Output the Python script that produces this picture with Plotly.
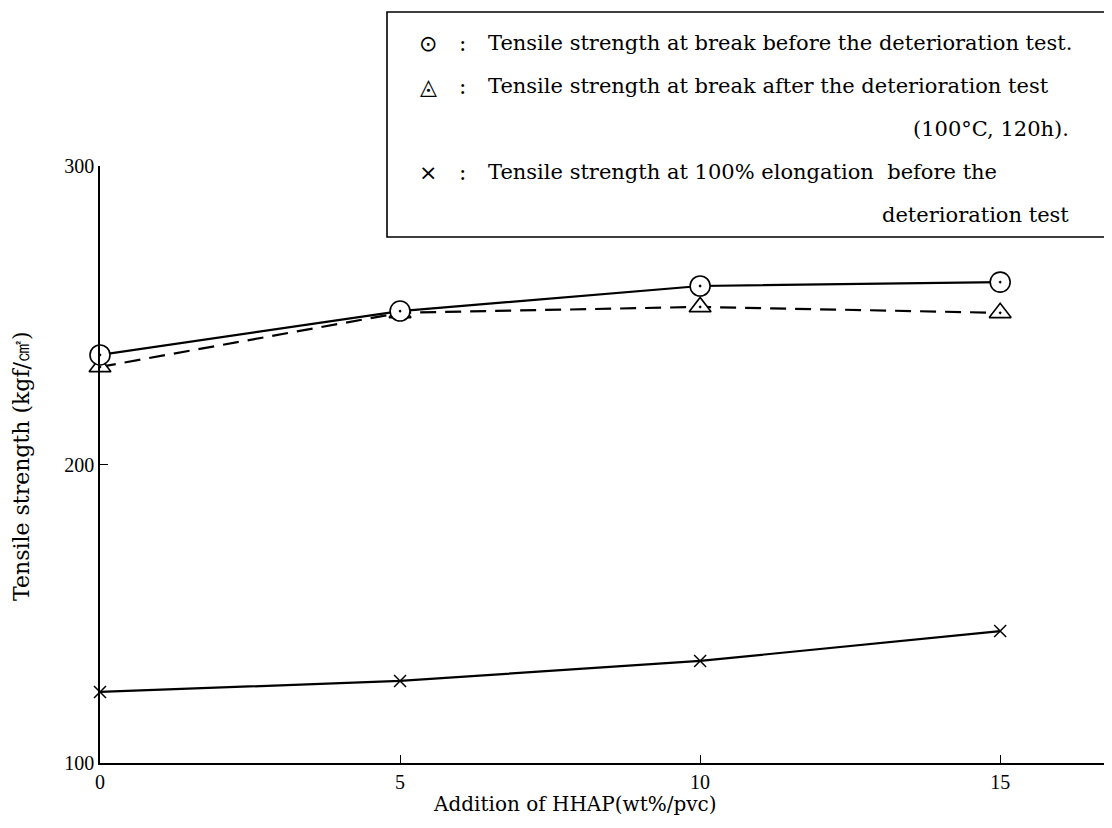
import plotly.graph_objects as go

# ---- data ----
hhap = [0, 5, 10, 15]
break_before = [236.7, 251.4, 259.8, 261.1]
break_after = [232.7, 250.8, 252.8, 250.8]
elong100_before = [123.8, 127.5, 134.2, 144.2]

x_ticks = [0, 5, 10, 15]
y_ticks = [100, 200, 300]

legend_rows = [
    ("⊙", "Tensile strength at break before the deterioration test."),
    ("◬", "Tensile strength at break after the deterioration test"),
    ("×", "Tensile strength at 100% elongation  before the"),
]
legend_cont = ["(100°C, 120h).", "deterioration test"]

SERIF = "Liberation Serif, Times New Roman, serif"
WIDE = "DejaVu Serif, serif"

fig = go.Figure()

fig.add_trace(go.Scatter(
    x=hhap, y=break_after, mode="lines+markers",
    line=dict(color="black", width=2.2, dash="16px,9px"),
    marker=dict(symbol="triangle-up-dot", size=19, color="white",
                line=dict(color="black", width=1.6)),
    cliponaxis=False, showlegend=False))

fig.add_trace(go.Scatter(
    x=hhap, y=break_before, mode="lines+markers",
    line=dict(color="black", width=2.2),
    marker=dict(symbol="circle-dot", size=20, color="white",
                line=dict(color="black", width=1.6)),
    cliponaxis=False, showlegend=False))

fig.add_trace(go.Scatter(
    x=hhap, y=elong100_before, mode="lines+markers",
    line=dict(color="black", width=2.2),
    marker=dict(symbol="x-thin", size=12, color="black",
                line=dict(color="black", width=1.5)),
    cliponaxis=False, showlegend=False))

fig.update_layout(
    width=1104, height=820,
    margin=dict(l=92, r=2, t=158, b=65),
    paper_bgcolor="white", plot_bgcolor="white",
    font=dict(family=SERIF, color="black"),
    xaxis=dict(range=[0, 16.83], tickvals=x_ticks, ticktext=[str(v) for v in x_ticks],
               showgrid=False, zeroline=False, showline=True, linecolor="black",
               linewidth=1.6, ticks="inside", ticklen=8, tickcolor="black",
               tickfont=dict(family=SERIF, size=20)),
    yaxis=dict(range=[100, 300], tickvals=y_ticks, ticktext=[str(v) for v in y_ticks],
               showgrid=False, zeroline=False, showline=True, linecolor="black",
               linewidth=1.6, ticks="inside", ticklen=8, tickcolor="black",
               tickfont=dict(family=SERIF, size=20)),
)

# axis titles
fig.add_annotation(text="Addition of HHAP(wt%/pvc)", xref="paper", yref="paper",
                   x=(575 - 100) / 1010, y=(763 - 804) / 597, showarrow=False,
                   font=dict(family=WIDE, size=20), xanchor="center", yanchor="middle")
fig.add_annotation(text="Tensile strength (kgf/㎠)", xref="paper", yref="paper",
                   x=(21 - 100) / 1010, y=(763 - 466) / 597, showarrow=False, textangle=-90,
                   font=dict(family=WIDE, size=22), xanchor="center", yanchor="middle")

# legend box
fig.add_shape(type="rect", xref="paper", yref="paper",
              x0=(387 - 100) / 1010, x1=(1106 - 100) / 1010,
              y0=(763 - 237) / 597, y1=(763 - 12) / 597,
              line=dict(color="black", width=1.6), fillcolor="white", layer="above")

row_px = [43, 86, 172]
cont_px = [129, 215]
for (sym, txt), py in zip(legend_rows, row_px):
    yp = (763 - py) / 597
    fig.add_annotation(text=sym, xref="paper", yref="paper", x=(428 - 100) / 1010, y=yp,
                       showarrow=False, xanchor="center", yanchor="middle",
                       font=dict(family="DejaVu Sans", size=22))
    fig.add_annotation(text=":", xref="paper", yref="paper", x=(462 - 100) / 1010, y=yp,
                       showarrow=False, xanchor="center", yanchor="middle",
                       font=dict(family=WIDE, size=22))
    fig.add_annotation(text=txt, xref="paper", yref="paper", x=(486 - 100) / 1010, y=yp,
                       showarrow=False, xanchor="left", yanchor="middle",
                       font=dict(family=WIDE, size=21))
for txt, py in zip(legend_cont, cont_px):
    fig.add_annotation(text=txt, xref="paper", yref="paper", x=(1071 - 100) / 1010,
                       y=(763 - py) / 597, showarrow=False, xanchor="right", yanchor="middle",
                       font=dict(family=WIDE, size=21))

fig.write_html("out.html")
